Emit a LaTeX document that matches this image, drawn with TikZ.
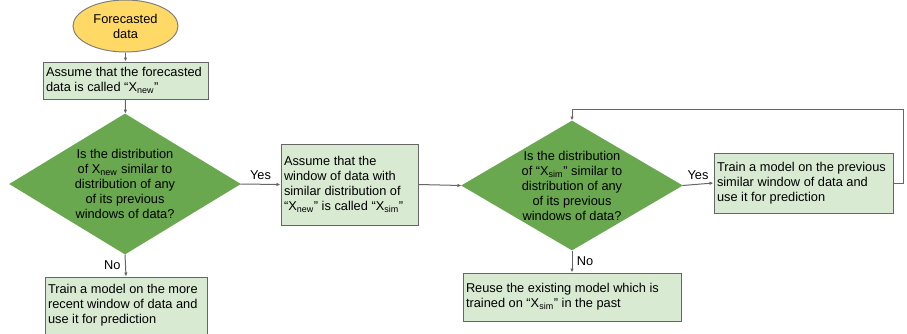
\documentclass[tikz,border=0pt]{standalone}
\usepackage{fontspec}
\setmainfont{Liberation Sans}
\usetikzlibrary{shapes, positioning, arrows.meta}
\definecolor{boxgreen}{HTML}{D9EAD3}
\definecolor{darkgreen}{HTML}{6AA84F}
\definecolor{paleyellow}{HTML}{FFD966}
\definecolor{linegray}{HTML}{666666}

\begin{document}
\begin{tikzpicture}[x=0.75pt, y=-0.75pt, line width=0.75pt,
    every node/.style={font=\fontsize{9.6}{11.25}\selectfont},
    start/.style={ellipse, draw=gray, fill=paleyellow, minimum width=78.75pt, minimum height=39pt, inner sep=0pt, align=center},
    proc/.style={rectangle, draw=linegray, fill=boxgreen, inner xsep=2.25pt, inner ysep=0pt, align=flush left},
    decision/.style={diamond, draw=darkgreen, fill=darkgreen, inner sep=0pt},
    arr/.style={draw=linegray, -{Latex[length=3pt,width=2.6pt]}}]
    \useasboundingbox (0,0) rectangle (907,333);
        % Nodes
        \node[start] (fc) at (125.5,26) {Forecasted\\data};
        \node[proc, text width=119.25pt, minimum height=27.75pt] (xnew) at (125.5,80.5) {Assume that the forecasted\\data is called “X\textsubscript{new}”};
        \node[decision, minimum width=172.5pt, minimum height=105pt] (q1) at (125,184) {};
        \node[align=center] (q1t) at (q1) {Is the distribution\\of X\textsubscript{new} similar to\\distribution of any\\of its previous\\windows of data?};
        \node[proc, text width=117pt, minimum height=42.75pt] (recent) at (126,305.5) {Train a model on the more\\recent window of data and\\use it for prediction};
        \node[proc, text width=98.25pt, minimum height=60.75pt] (xsim) at (349.5,184.5) {Assume that the\\window of data with\\similar distribution of\\“X\textsubscript{new}” is called “X\textsubscript{sim}”};
        \node[decision, minimum width=165pt, minimum height=96.75pt] (q2) at (572,185.5) {};
        \node[align=center] (q2t) at (q2) {Is the distribution\\of “X\textsubscript{sim}” similar to\\distribution of any\\of its previous\\windows of data?};
        \node[proc, text width=129.75pt, minimum height=45pt] (prev) at (803.5,183) {Train a model on the previous\\similar window of data and\\use it for prediction};
        \node[proc, text width=159pt, minimum height=36pt] (reuse) at (572,297) {Reuse the existing model which is\\trained on “X\textsubscript{sim}” in the past};
        \coordinate (back) at (572,109);

        % Lines
        \draw[arr] (fc) -- (xnew);
        \draw[arr] (xnew) -- (q1);
        \draw[arr] (q1.east) -- node[above] {Yes} (xsim.west);
        \draw[arr] (q1.south) -- node[left] {No} (recent.north);
        \draw[arr] (xsim.east) -- (q2.west);
        \draw[arr] (q2.east) -- node[above] {Yes} (prev.west);
        \draw[arr] (q2.south) -- node[right] {No} (reuse.north);
        \draw[arr] (prev.east) -- ++(10,0) |- (back) -- (q2.north);
\end{tikzpicture}
\end{document}
